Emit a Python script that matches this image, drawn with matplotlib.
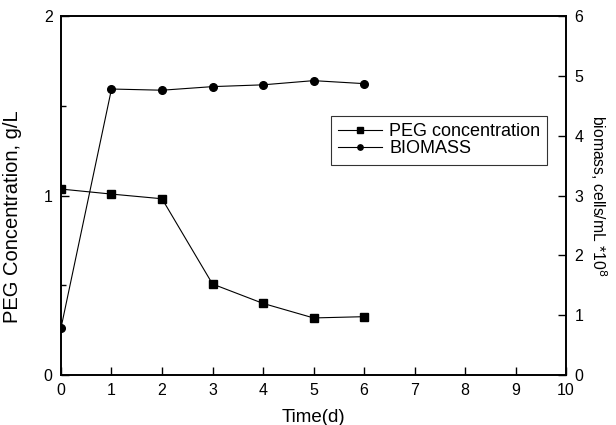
import matplotlib
matplotlib.use("Agg")
from matplotlib import pyplot

days = [0, 1, 2, 3, 4, 5, 6]
peg = [1.036, 1.008, 0.982, 0.507, 0.399, 0.318, 0.325]
biomass = [0.786, 4.78, 4.76, 4.82, 4.85, 4.92, 4.87]

pyplot.rcParams['font.family'] = ['Liberation Sans', 'DejaVu Sans']

fig = pyplot.figure(figsize=(6.16, 4.25), dpi=100)
ax1 = fig.add_axes([0.099, 0.1176, 0.82, 0.8447])
ax2 = ax1.twinx()

l1, = ax1.plot(days, peg, color='black', marker='s', markersize=5.5, linewidth=0.8,
               label='PEG concentration')
l2, = ax2.plot(days, biomass, color='black', marker='o', markersize=5.5, linewidth=0.8,
               label='BIOMASS')

ax1.set_xlim(0, 10)
ax1.set_ylim(0, 2)
ax2.set_ylim(0, 6)
ax1.set_xticks(range(0, 11))
ax1.set_yticks([0, 1, 2])
ax1.set_yticks([0.5, 1.5], minor=True)
ax2.set_yticks(range(0, 7))

for a in (ax1, ax2):
    for s in a.spines.values():
        s.set_linewidth(1.2)
ax1.tick_params(axis='both', which='major', direction='in', length=6, width=1, labelsize=11.5, pad=6)
ax1.tick_params(axis='y', which='minor', direction='in', length=3.5, width=1)
ax1.tick_params(axis='x', top=False)
ax2.tick_params(axis='y', which='major', direction='in', length=6, width=1, labelsize=11.5, pad=6)

ax1.set_xlabel('Time(d)', fontsize=13.5, labelpad=8)
ax1.set_ylabel('PEG Concentration, g/L', fontsize=14.5)
ax1.yaxis.set_label_coords(-0.077, 0.44)
ax2.set_ylabel('biomass, cells/mL *10$^8$', fontsize=11.3, rotation=270, labelpad=18)

leg = ax1.legend([l1, l2], ['PEG concentration', 'BIOMASS'], loc='upper left',
                 bbox_to_anchor=(0.535, 0.721), fontsize=13, frameon=True, fancybox=False,
                 edgecolor='black', handlelength=2.4, handletextpad=0.4, borderpad=0.4,
                 labelspacing=0.0, markerscale=0.7, borderaxespad=0)
leg.get_frame().set_linewidth(0.8)

pyplot.savefig('out.png', dpi=100)
